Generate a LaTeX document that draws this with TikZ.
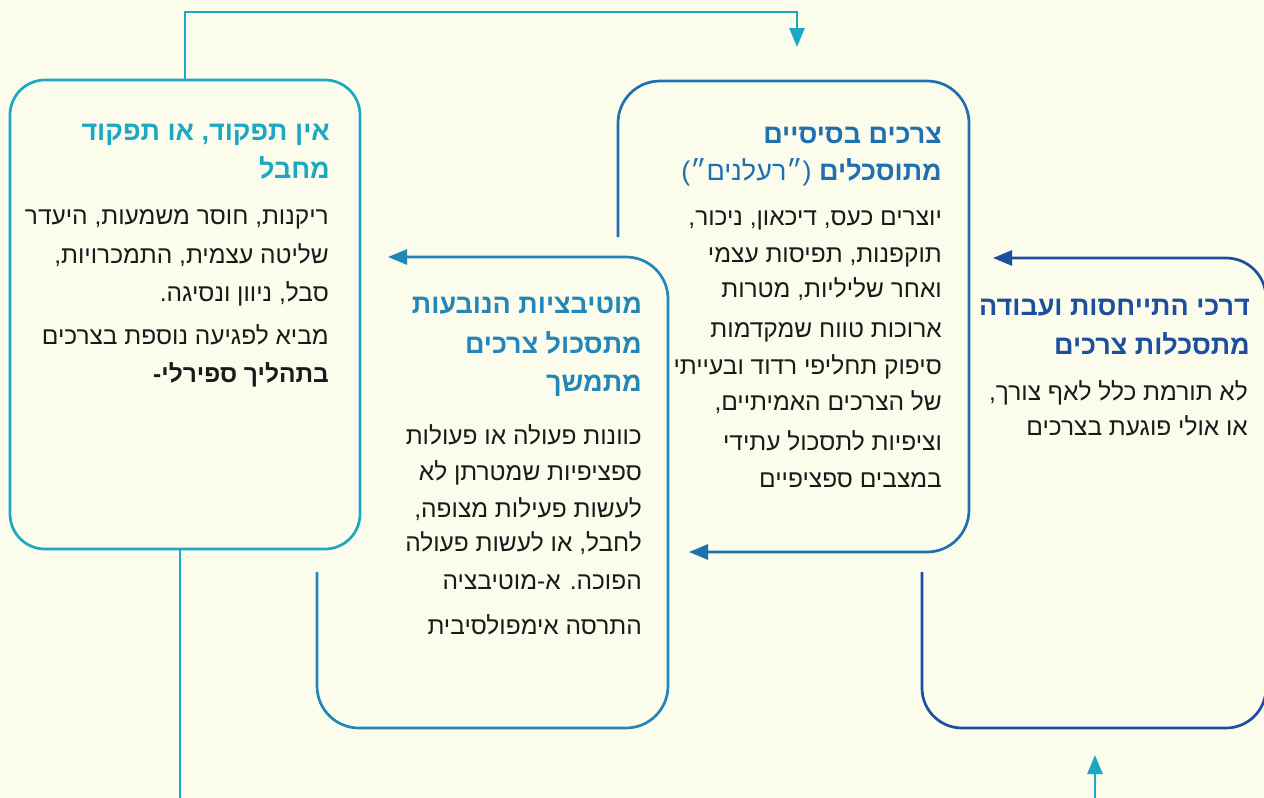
\documentclass[tikz,border=0pt]{standalone}
\usepackage{fontspec}
\setmainfont{Liberation Sans}
\newfontfamily\hebfont[Script=Hebrew]{Liberation Sans}
\TeXXeTstate=1
\usetikzlibrary{arrows.meta}

\definecolor{paper}{RGB}{251,252,236}
\definecolor{cA}{RGB}{26,168,197}
\definecolor{cB}{RGB}{35,134,185}
\definecolor{cC}{RGB}{31,112,177}
\definecolor{cD}{RGB}{29,79,158}
\definecolor{ink}{RGB}{26,26,26}

\tikzset{
  flow/.style={line width=2.7pt, -{Triangle[length=19pt,width=15pt]}},
  frame/.style={line width=2.7pt},
  body/.style={anchor=base east, inner sep=0pt, text=ink,
    font=\hebfont\fontsize{24.5}{29}\selectfont},
  head/.style={anchor=base east, inner sep=0pt,
    font=\hebfont\bfseries\fontsize{27}{32}\selectfont},
}

\begin{document}
\begin{tikzpicture}[x=1pt,y=-1pt]
\fill[paper] (0,0) rectangle (1264,798);
\useasboundingbox (0,0) rectangle (1264,798);

% ---- frames and flow lines ----
\node[frame, draw=cA, rounded corners=35pt, minimum width=350pt,
      minimum height=469pt, inner sep=0pt, outer sep=0pt] (boxA) at (185,314.5) {};

\coordinate (topBend) at (797,12);
\coordinate (topTip) at (797,47);
\draw[flow, cA] (boxA.north) |- (topBend) -- (topTip);

\coordinate (aExit) at (180,800);
\draw[frame, cA] (boxA.south -| aExit) -- (aExit);

\coordinate (bStart) at (317,572);
\coordinate (bTip) at (388,257);
\draw[flow, cB, rounded corners=42pt]
  (bStart) -- (317,728) -- (668,728) -- (668,257) -- (bTip);

\coordinate (cStart) at (618,237);
\coordinate (cTip) at (689,552);
\draw[flow, cC, rounded corners=42pt]
  (cStart) -- (618,81) -- (969,81) -- (969,552) -- (cTip);

\coordinate (dStart) at (922,572);
\coordinate (dTip) at (993,258);
\draw[flow, cD, rounded corners=40pt]
  (dStart) -- (922,728) -- (1266,728) -- (1266,258) -- (dTip);

\coordinate (eStart) at (1095,800);
\coordinate (eTip) at (1095,755);
\draw[flow, cA] (eStart) -- (eTip);

% ---- box A text ----
\node[head, text=cA] (a1) at (330,140) {\beginR אין תפקוד, או תפקוד\endR};
\node[head, text=cA] (a2) at (330,178) {\beginR מחבל\endR};
\node[body] (a3) at (329,224) {\beginR ריקנות, חוסר משמעות, היעדר\endR};
\node[body] (a4) at (329,263) {\beginR שליטה עצמית, התמכרויות,\endR};
\node[body] (a5) at (329,301) {\beginR סבל, ניוון ונסיגה.\endR};
\node[body] (a6) at (329,344) {\beginR מביא לפגיעה נוספת בצרכים\endR};
\node[body, font=\hebfont\bfseries\fontsize{24.5}{29}\selectfont] (a7) at (329,382) {\beginR בתהליך ספירלי-\endR};

% ---- box B text ----
\node[head, text=cB] (b1) at (642,313) {\beginR מוטיבציות הנובעות\endR};
\node[head, text=cB] (b2) at (642,353) {\beginR מתסכול צרכים\endR};
\node[head, text=cB] (b3) at (642,391) {\beginR מתמשך\endR};
\node[body] (b4) at (642,444) {\beginR כוונות פעולה או פעולות\endR};
\node[body] (b5) at (642,480) {\beginR ספציפיות שמטרתן לא\endR};
\node[body] (b6) at (642,517) {\beginR לעשות פעילות מצופה,\endR};
\node[body] (b7) at (642,551) {\beginR לחבל, או לעשות פעולה\endR};
\node[body] (b8) at (642,589) {\beginR הפוכה. א-מוטיבציה\endR};
\node[body] (b9) at (642,634) {\beginR התרסה אימפולסיבית\endR};

% ---- box C text ----
\node[head, text=cC] (c1) at (942,143) {\beginR צרכים בסיסיים\endR};
\node[head, text=cC] (c2) at (942,180) {\beginR מתוסכלים {\mdseries (״רעלנים״)}\endR};
\node[body] (c3) at (942,225) {\beginR יוצרים כעס, דיכאון, ניכור,\endR};
\node[body] (c4) at (942,262) {\beginR תוקפנות, תפיסות עצמי\endR};
\node[body] (c5) at (942,297) {\beginR ואחר שליליות, מטרות\endR};
\node[body] (c6) at (942,337) {\beginR ארוכות טווח שמקדמות\endR};
\node[body] (c7) at (942,374) {\beginR סיפוק תחליפי רדוד ובעייתי\endR};
\node[body] (c8) at (942,410) {\beginR של הצרכים האמיתיים,\endR};
\node[body] (c9) at (942,450) {\beginR וציפיות לתסכול עתידי\endR};
\node[body] (c10) at (942,487) {\beginR במצבים ספציפיים\endR};

% ---- box D text ----
\node[head, text=cD] (d1) at (1250,315) {\beginR דרכי התייחסות ועבודה\endR};
\node[head, text=cD] (d2) at (1250,354) {\beginR מתסכלות צרכים\endR};
\node[body] (d3) at (1248,400) {\beginR לא תורמת כלל לאף צורך,\endR};
\node[body] (d4) at (1248,435) {\beginR או אולי פוגעת בצרכים\endR};
\end{tikzpicture}
\end{document}
